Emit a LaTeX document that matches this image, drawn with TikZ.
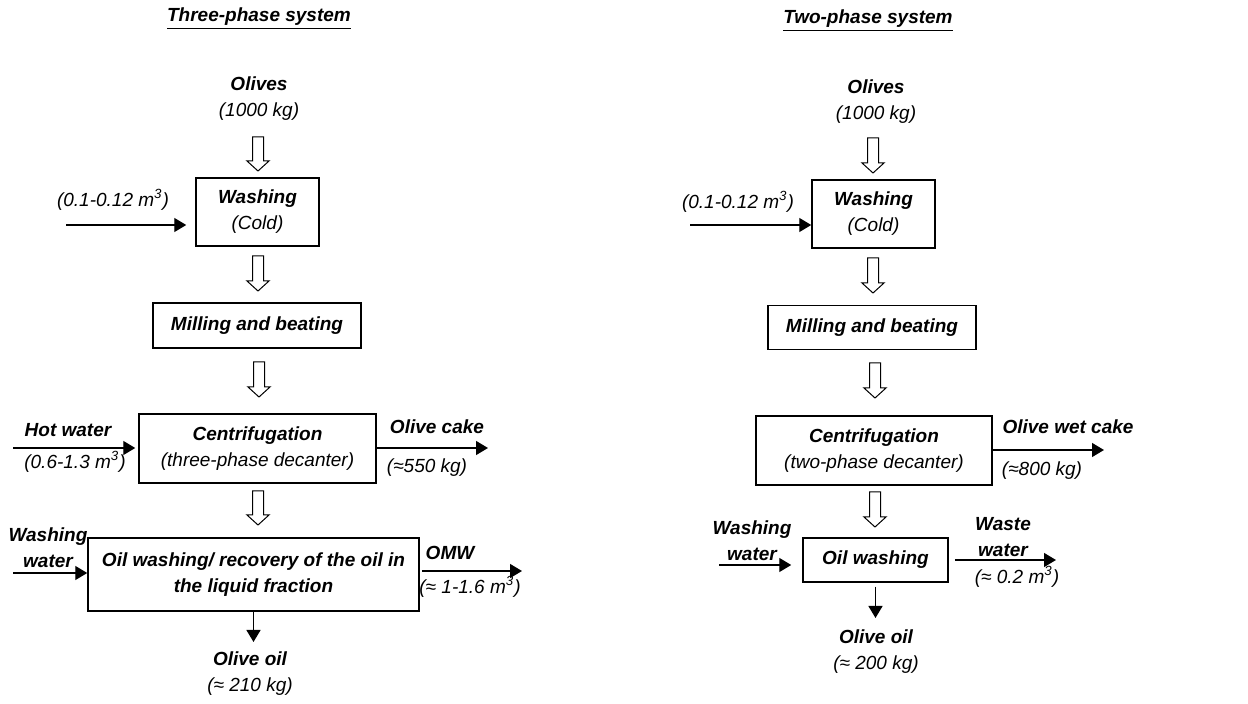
\documentclass[tikz,border=0pt]{standalone}
\usepackage{fontspec}
\setmainfont{Liberation Sans}
\usetikzlibrary{arrows.meta}

\newcommand\flowfont{\fontsize{9.5}{13}\selectfont}

\begin{document}
\begin{tikzpicture}[x=0.5pt, y=-0.5pt, >={Triangle[length=6pt,width=7pt]},
	box/.style={draw, line width=0.75pt, align=center, inner sep=0pt, font=\flowfont\bfseries\itshape},
	lab/.style={align=center, inner sep=0pt, font=\flowfont\bfseries\itshape},
	qty/.style={align=center, inner sep=0pt, font=\flowfont\itshape},
	flow/.style={->, line width=0.65pt},
	hollow/.style={draw, line width=0.5pt, fill=white}]
	% ====== canvas ======
	\useasboundingbox (0,0) rectangle (1248,704);
	
	% ====== three-phase system ======
	\node[lab] (ttl3) at (259,19) {\underline{Three-phase system}};
	\node[lab] (olv3) at (259,99) {Olives\\{\mdseries (1000 kg)}};
	\node[box, minimum width=61.5pt, minimum height=34pt] (wash3) at (257.5,212) {Washing\\{\mdseries (Cold)}};
	\node[box, minimum width=104pt, minimum height=22.5pt] (mill3) at (257,325.5) {Milling and beating};
	\node[box, minimum width=118.5pt, minimum height=34.5pt] (cent3) at (257.5,448.5) {Centrifugation\\{\mdseries (three-phase decanter)}};
	\node[box, minimum width=165.5pt, minimum height=36.5pt] (oil3) at (253.5,574.5) {Oil washing/ recovery of the oil in\\the liquid fraction};
	
	% streams in and out
	\node[qty] (wq3) at (113,200) {(0.1-0.12 m\textsuperscript{3})};
	\node[lab] (hot3) at (68,430) {Hot water};
	\node[qty] (hq3) at (75,462) {(0.6-1.3 m\textsuperscript{3})};
	\node[lab] (cake3) at (437,427) {Olive cake};
	\node[qty] (cq3) at (427,468) {(≈550 kg)};
	\node[lab] (ww3) at (48,548) {Washing\\water};
	\node[lab] (omw3) at (450,553) {OMW};
	\node[qty] (oq3) at (470,587) {(≈ 1-1.6 m\textsuperscript{3})};
	\node[lab] (oo3) at (250,673.5) {Olive oil\\{\mdseries (≈ 210 kg)}};
	
	\coordinate (win3) at (66,225);
	\coordinate (hin3) at (13,448);
	\coordinate (cout3) at (488,448);
	\coordinate (wwin3) at (13,573);
	\coordinate (omwout3) at (522,571);
	\coordinate (oout3) at (253.5,642);
	
	\draw[flow, shorten >=4.5pt] (win3) -- (wash3.west |- win3);
	\draw[flow, shorten >=1.5pt] (hin3) -- (cent3.west |- hin3);
	\draw[flow] (cent3.east |- cout3) -- (cout3);
	\draw[flow] (wwin3) -- (oil3.west |- wwin3);
	\draw[flow, shorten <=1pt] (oil3.east |- omwout3) -- (omwout3);
	\draw[flow] (oil3.south -| oout3) -- (oout3);
	
	% ====== two-phase system ======
	\node[lab] (ttl2) at (868,21) {\underline{Two-phase system}};
	\node[lab] (olv2) at (876,101.5) {Olives\\{\mdseries (1000 kg)}};
	\node[box, minimum width=61.5pt, minimum height=34pt] (wash2) at (873.5,214) {Washing\\{\mdseries (Cold)}};
	\node[box, minimum width=104pt, minimum height=22pt] (mill2) at (872,327.5) {Milling and beating};
	\node[box, minimum width=118pt, minimum height=34.5pt] (cent2) at (874,450.5) {Centrifugation\\{\mdseries (two-phase decanter)}};
	\node[box, minimum width=72.5pt, minimum height=22pt] (oil2) at (875.5,560) {Oil washing};
	
	% streams in and out
	\node[qty] (wq2) at (738,202) {(0.1-0.12 m\textsuperscript{3})};
	\node[lab] (cake2) at (1068,427) {Olive wet cake};
	\node[qty] (cq2) at (1042,471) {(≈800 kg)};
	\node[lab] (ww2) at (752,541) {Washing\\water};
	\node[lab] (waste2) at (1003,537) {Waste\\water};
	\node[qty] (wsq2) at (1017,577) {(≈ 0.2 m\textsuperscript{3})};
	\node[lab] (oo2) at (876,652) {Olive oil\\{\mdseries (≈ 200 kg)}};
	
	\coordinate (win2) at (690,225);
	\coordinate (cout2) at (1104,450);
	\coordinate (wwin2) at (719,565);
	\coordinate (wsout2) at (1056,560);
	\coordinate (oout2) at (875.5,618);
	
	\draw[flow] (win2) -- (wash2.west |- win2);
	\draw[flow] (cent2.east |- cout2) -- (cout2);
	\draw[flow, shorten >=5.5pt] (wwin2) -- (oil2.west |- wwin2);
	\draw[flow, shorten <=3pt] (oil2.east |- wsout2) -- (wsout2);
	\draw[flow, shorten <=2pt] (oil2.south -| oout2) -- (oout2);
	
	% ====== hollow arrows between the steps ======
	\foreach \hx/\ha/\hb in {258/137/171, 258/256/291, 259/362/397, 258/491/525,
		873/138/173, 873/258/293, 875/363/398, 875/492/527}
	\draw[hollow] ({\hx-5.5},\ha) -- ({\hx+5.5},\ha) -- ({\hx+5.5},{\hb-10}) -- ({\hx+11},{\hb-10})
	-- (\hx,\hb) -- ({\hx-11},{\hb-10}) -- ({\hx-5.5},{\hb-10}) -- cycle;
\end{tikzpicture}
\end{document}
